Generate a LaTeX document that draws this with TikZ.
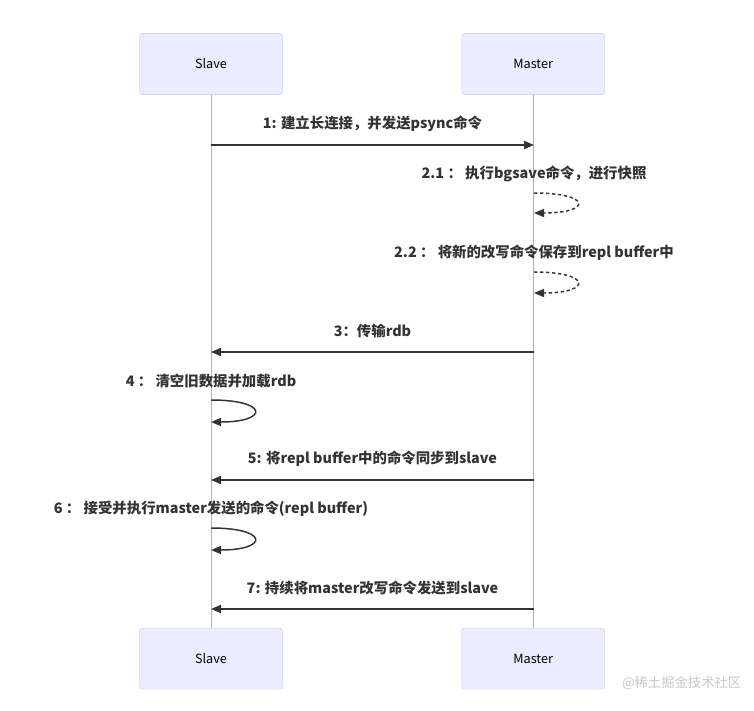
\documentclass[tikz,border=0pt]{standalone}
\usepackage{fontspec}
\setmainfont{Noto Sans CJK SC}
\usetikzlibrary{positioning,arrows.meta}
\definecolor{actorfill}{HTML}{ECECFF}
\definecolor{actorline}{HTML}{D6CFF3}
\definecolor{lifegray}{HTML}{B0B0B0}
\definecolor{msgdark}{HTML}{333333}
\definecolor{markgray}{HTML}{C8C8C8}

\begin{document}
\begin{tikzpicture}[x=0.75pt,y=-0.75pt,>={Triangle[length=7.5pt,width=6pt]},node distance=134.25pt,
    actor/.style={draw=actorline,fill=actorfill,rounded corners=2pt,
      minimum width=107pt,minimum height=45.75pt,
      font=\fontsize{9.5}{11}\selectfont,text=black},
    msg/.style={->,draw=msgdark,line width=1.4pt},
    selfmsg/.style={->,draw=msgdark,line width=1.1pt},
    lbl/.style={font=\bfseries\fontsize{10.8}{12}\selectfont,text=msgdark}]
        \useasboundingbox (0,0) rectangle (754,711);

        % participants
        \node[actor] (slaveTop) at (211,64) {Slave};
        \node[actor] (masterTop) [right = of slaveTop] {Master};
        \node[actor] (slaveBot) [below = 399.75pt of slaveTop] {Slave};
        \node[actor] (masterBot) [below = 399.75pt of masterTop] {Master};

        \draw[lifegray,line width=0.6pt] (slaveTop) -- (slaveBot);
        \draw[lifegray,line width=0.6pt] (masterTop) -- (masterBot);

        % message points on the lifelines
        \coordinate (s1) at (211,145);   \coordinate (m1) at (534,145);
        \coordinate (m21a) at (534,193); \coordinate (m21b) at (534,213);
        \coordinate (m22a) at (534,272); \coordinate (m22b) at (534,293);
        \coordinate (s3) at (211,352);   \coordinate (m3) at (534,352);
        \coordinate (s4a) at (211,400);  \coordinate (s4b) at (211,422);
        \coordinate (s5) at (211,480);   \coordinate (m5) at (534,480);
        \coordinate (s6a) at (211,528);  \coordinate (s6b) at (211,550);
        \coordinate (s7) at (211,609);   \coordinate (m7) at (534,609);

        \draw[msg] (s1) -- node[lbl,yshift=15.75pt] {1: 建立长连接，并发送psync命令} (m1);

        \node[lbl,yshift=14.25pt] (t21) at (m21a) {2.1 ： 执行bgsave命令，进行快照};
        \draw[selfmsg,dash pattern=on 2.5pt off 2pt] (m21a) .. controls +(58,0) and +(58,0) .. (m21b);

        \node[lbl,yshift=14.25pt] (t22) at (m22a) {2.2 ： 将新的改写命令保存到repl buffer中};
        \draw[selfmsg,dash pattern=on 2.5pt off 2pt] (m22a) .. controls +(58,0) and +(58,0) .. (m22b);

        \draw[msg] (m3) -- node[lbl,yshift=15.75pt] {3：传输rdb} (s3);

        \node[lbl,yshift=14.25pt] (t4) at (s4a) {4 ： 清空旧数据并加载rdb};
        \draw[selfmsg] (s4a) .. controls +(58,0) and +(58,0) .. (s4b);

        \draw[msg] (m5) -- node[lbl,yshift=15.75pt] {5: 将repl buffer中的命令同步到slave} (s5);

        \node[lbl,yshift=14.25pt] (t6) at (s6a) {6 ： 接受并执行master发送的命令(repl buffer)};
        \draw[selfmsg] (s6a) .. controls +(58,0) and +(58,0) .. (s6b);

        \draw[msg] (m7) -- node[lbl,yshift=15.75pt] {7: 持续将master改写命令发送到slave} (s7);

        % watermark
        \node[text=markgray,font=\fontsize{10}{12}\selectfont,anchor=east] (mark) at (746,683) {@稀土掘金技术社区};
\end{tikzpicture}
\end{document}
